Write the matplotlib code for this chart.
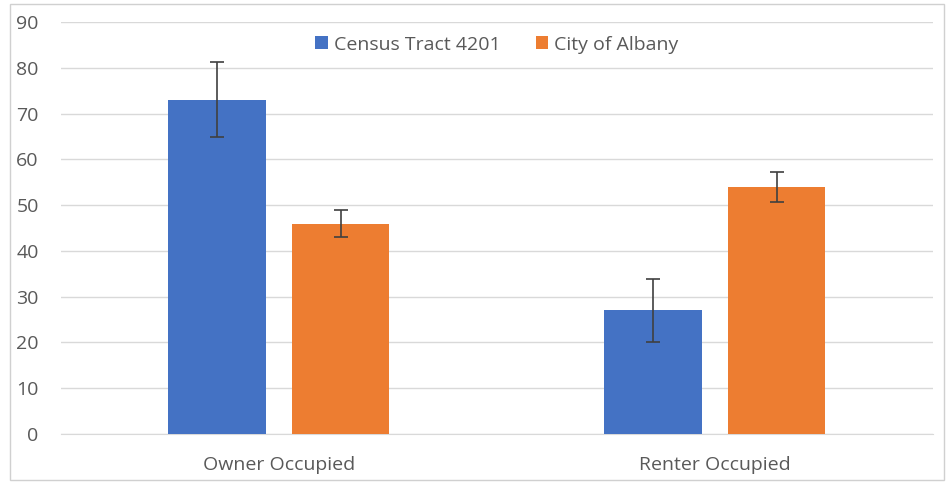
import matplotlib.pyplot as plt
import numpy as np
from matplotlib.patches import Rectangle

categories = ["Owner Occupied", "Renter Occupied"]
tract = [73, 27]
tract_err = [8.2, 6.8]
albany = [46, 54]
albany_err = [2.9, 3.2]

plt.rcParams['font.family'] = ['Open Sans', 'DejaVu Sans']
txt = '#595959'

fig = plt.figure(figsize=(9.51, 4.82), dpi=100)
ax = fig.add_axes([0.064, 0.0996, 0.917, 0.8544])

x = np.arange(len(categories))
w = 0.223
off = 0.142
ekw = dict(ecolor='#404040', elinewidth=1.2, capthick=1.2)
ax.bar(x - off, tract, w, yerr=tract_err, capsize=4.7, color='#4472C4',
       label='Census Tract 4201', error_kw=ekw, zorder=3)
ax.bar(x + off, albany, w, yerr=albany_err, capsize=4.7, color='#ED7D31',
       label='City of Albany', error_kw=ekw, zorder=3)

ax.set_xlim(-0.5, 1.5)
ax.set_ylim(0, 90)
ax.set_yticks(range(0, 91, 10))
ax.set_xticks(x)
ax.set_xticklabels(categories)
ax.yaxis.grid(True, color='#d9d9d9', linewidth=1, zorder=0)
for s in ['top', 'right', 'left']:
    ax.spines[s].set_visible(False)
ax.spines['bottom'].set_color('#d9d9d9')
ax.tick_params(axis='both', length=0, labelsize=14, colors=txt)
ax.tick_params(axis='y', pad=16)
ax.tick_params(axis='x', pad=16)

leg = ax.legend(loc='upper center', bbox_to_anchor=(0.5, 1.01), ncol=2,
                frameon=False, fontsize=14, handlelength=0.65, handleheight=0.65,
                columnspacing=1.8, handletextpad=0.3, labelcolor=txt)

fig.patches.append(Rectangle((10 / 951, 2 / 482), 934 / 951, 476 / 482,
                             transform=fig.transFigure, fill=False,
                             edgecolor='#d0d0d0', linewidth=1))

fig.savefig('out.png', dpi=100)
